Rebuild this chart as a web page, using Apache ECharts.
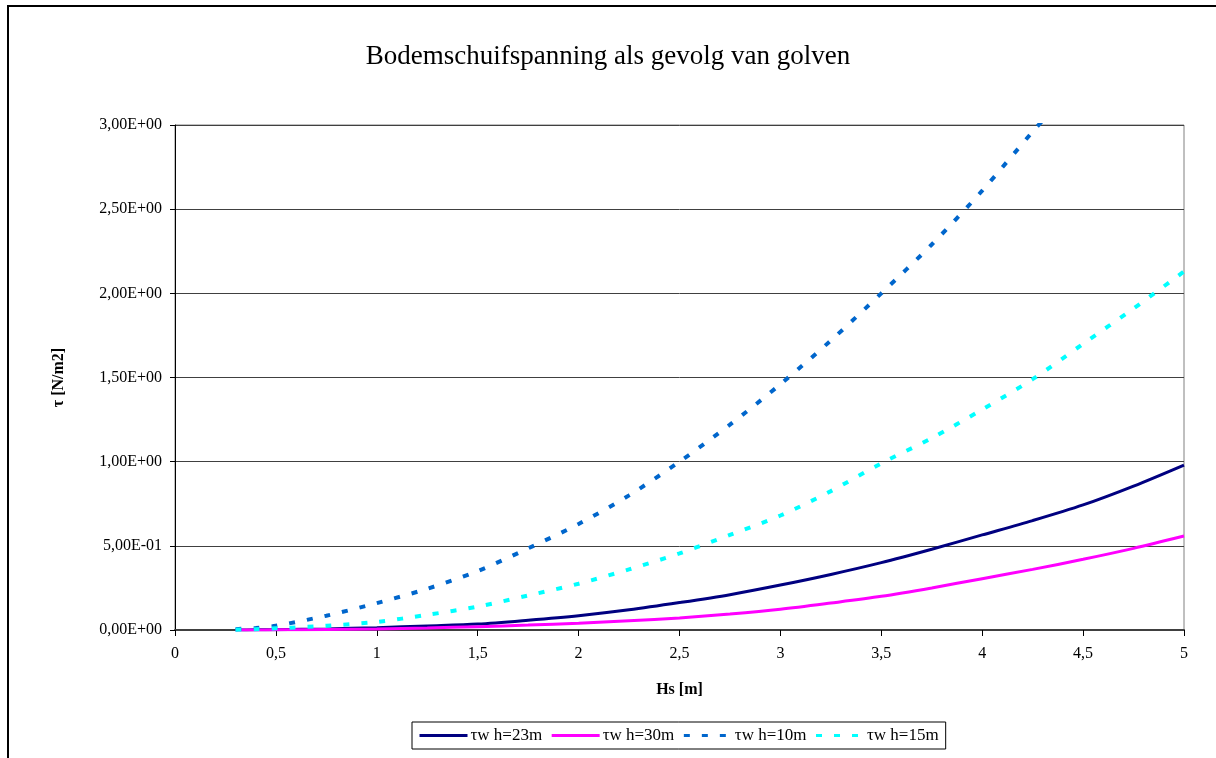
<!DOCTYPE html>
<html>
<head>
<meta charset="utf-8">
<script src="https://cdn.jsdelivr.net/npm/echarts@6/dist/echarts.min.js"></script>
<style>
  html, body { margin: 0; padding: 0; background: #fff; }
  #frame {
    position: absolute; left: 7px; top: 5px;
    width: 1300px; height: 900px;
    border: 2px solid #000; box-sizing: border-box;
  }
  #chart { position: absolute; left: 0; top: 0; width: 1216px; height: 758px; }
</style>
</head>
<body>
<div id="frame"></div>
<div id="chart"></div>
<script>
// Hs [m]
const hs = [0.3, 0.4, 0.5, 0.75, 1, 1.25, 1.5, 1.75, 2, 2.25, 2.5, 2.75, 3, 3.25, 3.5, 3.75, 4, 4.25, 4.5, 4.75, 5];

// tau [N/m2] for each water depth
const tauH23 = [0, 0.001, 0.002, 0.006, 0.014, 0.024, 0.035, 0.058, 0.085, 0.12, 0.163, 0.21, 0.267, 0.33, 0.40, 0.48, 0.565, 0.65, 0.743, 0.855, 0.98];
const tauH30 = [0, 0, 0.001, 0.003, 0.006, 0.012, 0.02, 0.029, 0.04, 0.055, 0.072, 0.095, 0.123, 0.16, 0.20, 0.25, 0.305, 0.36, 0.42, 0.485, 0.558];
const tauH10 = [0.005, 0.012, 0.025, 0.085, 0.16, 0.245, 0.35, 0.485, 0.63, 0.80, 1.0, 1.22, 1.46, 1.72, 2.0, 2.29, 2.61, 2.96, 3.3, 3.68, 4.07];
const tauH15 = [0.002, 0.005, 0.01, 0.025, 0.048, 0.09, 0.139, 0.205, 0.275, 0.36, 0.455, 0.565, 0.68, 0.825, 0.99, 1.14, 1.31, 1.49, 1.70, 1.91, 2.13];

const seriesNames = ["τw h=23m", "τw h=30m", "τw h=10m", "τw h=15m"];

const serif = "Liberation Serif";

function pairs(ys) {
  return hs.map((x, i) => [x, ys[i]]);
}

function sciLabel(v) {
  const parts = v.toExponential(2).split("e");
  const n = parseInt(parts[1], 10);
  const exp = (n < 0 ? "-" : "+") + String(Math.abs(n)).padStart(2, "0");
  return parts[0].replace(".", ",") + "E" + exp;
}

const chart = echarts.init(document.getElementById("chart"));

const option = {
  animation: false,
  backgroundColor: "transparent",
  title: {
    text: "Bodemschuifspanning als gevolg van golven",
    left: "center",
    top: 38,
    textStyle: { fontFamily: serif, fontSize: 27, fontWeight: "normal", color: "#000" },
  },
  grid: {
    left: 175,
    right: 32,
    top: 125,
    bottom: 128,
    show: true,
    borderColor: "#808080",
    borderWidth: 1,
  },
  legend: {
    left: 412,
    top: 722,
    itemWidth: 48,
    itemHeight: 10,
    itemGap: 8,
    padding: [5, 7, 5, 6],
    borderColor: "#000",
    borderWidth: 1,
    itemStyle: { opacity: 0 },
    lineStyle: { width: 3 },
    textStyle: { fontFamily: serif, fontSize: 17, color: "#000", padding: [0, 0, 0, -2] },
    data: seriesNames,
  },
  xAxis: {
    type: "value",
    min: 0,
    max: 5,
    interval: 0.5,
    name: "Hs [m]",
    nameLocation: "middle",
    nameGap: 52,
    nameTextStyle: { fontFamily: serif, fontSize: 16, fontWeight: "bold", color: "#000" },
    axisLine: { show: true, lineStyle: { color: "#404040", width: 2 } },
    axisTick: { show: true, length: 6, lineStyle: { color: "#000" } },
    axisLabel: {
      fontFamily: serif, fontSize: 16, color: "#000", margin: 16,
      formatter: (v) => String(v).replace(".", ","),
    },
    splitLine: { show: false },
  },
  yAxis: {
    type: "value",
    min: 0,
    max: 3,
    interval: 0.5,
    name: "τ [N/m2]",
    nameLocation: "middle",
    nameRotate: 90,
    nameGap: 108,
    nameTextStyle: { fontFamily: serif, fontSize: 16, fontWeight: "bold", color: "#000" },
    axisLine: { show: true, lineStyle: { color: "#000", width: 1 } },
    axisTick: { show: true, length: 5, lineStyle: { color: "#000" } },
    axisLabel: {
      fontFamily: serif, fontSize: 16, color: "#000", margin: 13,
      formatter: sciLabel,
    },
    splitLine: { show: true, lineStyle: { color: "#404040", width: 1 } },
  },
  series: [
    {
      name: seriesNames[0], type: "line", data: pairs(tauH23), smooth: 0.3,
      symbol: "none", lineStyle: { color: "#000080", width: 3 }, itemStyle: { color: "#000080" },
    },
    {
      name: seriesNames[1], type: "line", data: pairs(tauH30), smooth: 0.3,
      symbol: "none", lineStyle: { color: "#FF00FF", width: 3 }, itemStyle: { color: "#FF00FF" },
    },
    {
      name: seriesNames[2], type: "line", data: pairs(tauH10), smooth: 0.3,
      symbol: "none", lineStyle: { color: "#0066CC", width: 4, type: [6, 12] }, itemStyle: { color: "#0066CC" },
    },
    {
      name: seriesNames[3], type: "line", data: pairs(tauH15), smooth: 0.3,
      symbol: "none", lineStyle: { color: "#00FFFF", width: 4, type: [6, 12] }, itemStyle: { color: "#00FFFF" },
    },
  ],
};

chart.setOption(option);
</script>
</body>
</html>
